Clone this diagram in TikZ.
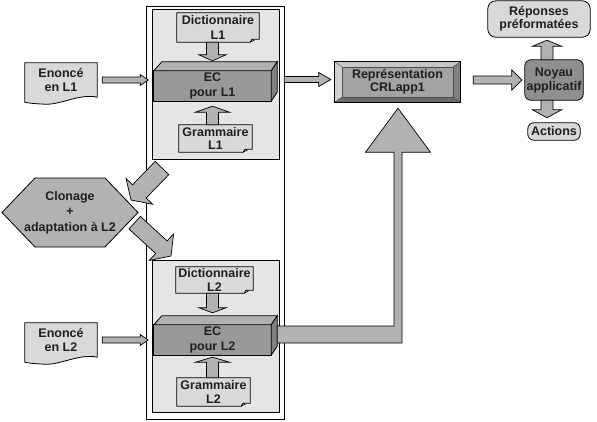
\documentclass[tikz,border=0pt]{standalone}
\usepackage{fontspec}
\setmainfont{Liberation Sans}
\usetikzlibrary{calc}
\pgfdeclarelayer{bg}
\pgfsetlayers{bg,main}
\definecolor{panelc}{gray}{0.9}
\definecolor{docc}{gray}{0.85}
\definecolor{arrowc}{gray}{0.7}
\definecolor{ecfront}{gray}{0.6}
\definecolor{ectop}{gray}{0.69}
\definecolor{ecside}{gray}{0.5}
\definecolor{repface}{gray}{0.64}
\definecolor{bevlight}{gray}{0.78}
\definecolor{bevlight2}{gray}{0.82}
\definecolor{bevdark}{gray}{0.42}
\definecolor{bevdark2}{gray}{0.5}
\definecolor{noyc}{gray}{0.56}
\newcommand\blockarr[5]{%
  \coordinate (bh) at ($(#2)!#5pt!(#1)$);
  \filldraw[arr] ($(#1)!#3pt!90:(#2)$) -- ($(bh)!#3pt!90:(#2)$) -- ($(bh)!#4pt!90:(#2)$) -- (#2)
    -- ($(bh)!#4pt!-90:(#2)$) -- ($(bh)!#3pt!-90:(#2)$) -- ($(#1)!#3pt!-90:(#2)$) -- cycle;}
\newcommand\notebox[1]{%
  \filldraw[docst] (#1.north west) -- (#1.north east) -- ($(#1.south east)+(0,-3)$)
    -- ($(#1.south east)+(-7,-3)$) -- ($(#1.south east)+(-9,0)$) -- (#1.south west) -- cycle;
  \filldraw[fill=gray!60, draw=black, line width=0.5pt] ($(#1.south east)+(-7,-3)$) -- ($(#1.south east)+(-9,0)$) -- ($(#1.south east)+(-5,-2)$) -- cycle;}
\newcommand\ecbox[1]{%
  \filldraw[fill=ecfront, line width=0.8pt] (#1.north west) rectangle (#1.south east);
  \filldraw[fill=ectop, line width=0.8pt] (#1.north west) -- ++(8,-9) -- ($(#1.north east)+(6,-9)$) -- (#1.north east) -- cycle;
  \filldraw[fill=ecside, line width=0.8pt] (#1.north east) -- ++(6,-9) -- ($(#1.south east)+(6,-9)$) -- (#1.south east) -- cycle;}
\newcommand\enonshape[1]{%
  \filldraw[docst] (#1.north west) -- (#1.north east) -- (#1.south east)
    .. controls ($(#1.south east)+(-17,-4)$) and ($(#1.south west)+(35,8)$) .. ($(#1.south west)+(20,7)$)
    .. controls ($(#1.south west)+(10,6.5)$) and ($(#1.south west)+(4,6)$) .. ($(#1.south west)+(0,5)$) -- cycle;}
\begin{document}
\begin{tikzpicture}[x=1pt,y=-1pt,
  txt/.style={font=\fontsize{12.5}{15.5}\selectfont\bfseries, align=center, inner sep=0pt, text=black!88},
  tight/.style={font=\fontsize{12.5}{13.2}\selectfont\bfseries},
  mid/.style={font=\fontsize{12.5}{14}\selectfont\bfseries},
  arr/.style={fill=arrowc, draw=black, line width=0.7pt, line join=miter},
  docst/.style={fill=docc, draw=black, line width=0.8pt}]
\useasboundingbox (0,0) rectangle (597,421);

% nodes (text)
\node[txt, minimum width=82pt, minimum height=29pt] (dict1) at (218,27.5) {Dictionnaire\\L1};
\node[txt, minimum width=117pt, minimum height=30pt] (ec1) at (212.5,86) {EC\\pour L1};
\node[txt, tight, minimum width=73pt, minimum height=27pt] (gram1) at (215.5,138.5) {Grammaire\\L1};
\node[txt, tight, minimum width=77pt, minimum height=26pt] (dict2) at (214.5,280) {Dictionnaire\\L2};
\node[txt, minimum width=117pt, minimum height=30pt] (ec2) at (212.5,340) {EC\\pour L2};
\node[txt, tight, minimum width=73pt, minimum height=28pt] (gram2) at (213.5,392) {Grammaire\\L2};
\node[txt, tight, minimum width=72pt, minimum height=34pt] (enon1) at (61,80) {Enoncé\\en L1};
\node[txt, tight, minimum width=72pt, minimum height=34pt] (enon2) at (61,340) {Enoncé\\en L2};
\node[txt, minimum width=136pt, minimum height=69pt] (clon) at (70,212.5) {Clonage\\+\\adaptation à L2};
\node[txt, tight, minimum width=125pt, minimum height=40pt] (rep) at (397.5,82) {Représentation\\CRLapp1};
\node[txt, mid, minimum width=58pt, minimum height=40pt] (noyau) at (554,80) {Noyau\\applicatif};
\node[txt, tight, minimum width=102pt, minimum height=36pt] (repo) at (539,19) {Réponses\\préformatées};
\node[txt, minimum width=52pt, minimum height=17pt] (act) at (554,131.5) {Actions};

% connector end points
\coordinate (a1s) at ($(enon1.east)+(5,0)$);
\coordinate (a1e) at ($(enon1.east)+(51,0)$);
\coordinate (a2s) at ($(enon2.east)+(5,0)$);
\coordinate (a2e) at ($(enon2.east)+(51,0)$);
\coordinate (a3s) at (ec1.north |- dict1.south);
\coordinate (a3e) at ($(ec1.north)+(0,-10)$);
\coordinate (a4s) at (ec1.south |- gram1.north);
\coordinate (a4e) at ($(ec1.south)+(0,5)$);
\coordinate (a5s) at (ec2.north |- dict2.south);
\coordinate (a5e) at ($(ec2.north)+(0,-12)$);
\coordinate (a6s) at (ec2.south |- gram2.north);
\coordinate (a6e) at ($(ec2.south)+(0,2)$);
\coordinate (a7s) at ($(ec1.east)+(13,-6.5)$);
\coordinate (a7e) at ($(rep.west)+(-4,-2.5)$);
\coordinate (a8s) at ($(rep.east)+(13,-2)$);
\coordinate (a8e) at ($(noyau.west)+(-3,0)$);
\coordinate (a9s) at ($(noyau.north)+(-7,0)$);
\coordinate (a9e) at ($(repo.south)+(8,3)$);
\coordinate (a10s) at ($(noyau.south)+(-7,0)$);
\coordinate (a10e) at ($(act.north)+(-7,-5)$);
\coordinate (d1s) at ($(clon.center)+(92,-44.5)$);
\coordinate (d1e) at ($(clon.center)+(61,-12.5)$);
\coordinate (d2s) at ($(clon.center)+(64.7,10.2)$);
\coordinate (d2e) at ($(clon.center)+(101,43.5)$);
\coordinate (lstart) at ($(ec2.east)+(6,-5.5)$);
\coordinate (ltip) at ($(rep.south)+(0.5,6)$);

\begin{pgfonlayer}{bg}
  \fill[white] (0,0) rectangle (597,421);
  % frame and panels
  \draw[fill=white, line width=0.8pt] (146,6.5) rectangle (284,419.3);
  \draw[fill=panelc, line width=0.8pt] (152,9.5) rectangle (279.3,159);
  \draw[fill=panelc, line width=0.8pt] (152,260.7) rectangle (279.3,412.7);
  % documents in panels
  \notebox{dict1}
  \notebox{gram1}
  \notebox{dict2}
  \notebox{gram2}
  % EC boxes
  \ecbox{ec1}
  \ecbox{ec2}
  % inner arrows
  \blockarr{a3s}{a3e}{6}{13.5}{6}
  \blockarr{a4s}{a4e}{6}{17}{6}
  \blockarr{a5s}{a5e}{6}{13.5}{5}
  \blockarr{a6s}{a6e}{6}{17}{5}
  % statements
  \enonshape{enon1}
  \enonshape{enon2}
  \blockarr{a1s}{a1e}{3}{5.5}{8}
  \blockarr{a2s}{a2e}{3}{5.5}{8}
  % cloning
  \filldraw[fill=arrowc, line width=0.8pt] ($(clon.center)+(-68,0)$) -- ++(33,-34.5) -- ++(70,0) -- ++(33,34.5) -- ++(-33,34.5) -- ++(-70,0) -- cycle;
  \blockarr{d1s}{d1e}{9.5}{18.5}{12}
  \blockarr{d2s}{d2e}{8.5}{18}{13}
  % representation (bevelled box)
  \fill[repface] (rep.north west) rectangle (rep.south east);
  \fill[bevlight] (rep.north west) -- (rep.north east) -- ($(rep.north east)+(-7,5)$) -- ($(rep.north west)+(7,5)$) -- cycle;
  \fill[bevlight2] (rep.north west) -- ($(rep.north west)+(7,5)$) -- ($(rep.south west)+(7,-5)$) -- (rep.south west) -- cycle;
  \fill[bevdark] (rep.south west) -- ($(rep.south west)+(7,-5)$) -- ($(rep.south east)+(-7,-5)$) -- (rep.south east) -- cycle;
  \fill[bevdark2] (rep.north east) -- ($(rep.north east)+(-7,5)$) -- ($(rep.south east)+(-7,-5)$) -- (rep.south east) -- cycle;
  \draw[line width=0.4pt, black!70] ($(rep.north west)+(7,5)$) rectangle ($(rep.south east)+(-7,-5)$);
  \draw[line width=0.4pt, black!70] (rep.north west) -- ++(7,5) (rep.north east) -- ++(-7,5) (rep.south west) -- ++(7,-5) (rep.south east) -- ++(-7,-5);
  \draw[line width=0.8pt] (rep.north west) rectangle (rep.south east);
  % L-shaped arrow from EC L2 to representation
  \filldraw[arr] ($(lstart)+(0,-8.5)$) -- ($(ltip |- lstart)+(-4,-8.5)$) -- ($(ltip)+(-4,44)$) -- ($(ltip)+(-32.5,44)$) -- (ltip)
     -- ($(ltip)+(32.5,44)$) -- ($(ltip)+(4,44)$) -- ($(ltip |- lstart)+(4,8.5)$) -- ($(lstart)+(0,8.5)$) -- cycle;
  \blockarr{a7s}{a7e}{3}{7}{12}
  \blockarr{a8s}{a8e}{4}{10}{10}
  % application core
  \filldraw[fill=noyc, rounded corners=6pt, line width=0.8pt] (noyau.north west) rectangle (noyau.south east);
  \filldraw[docst, rounded corners=8pt] (repo.north west) rectangle (repo.south east);
  \filldraw[docst, rounded corners=6pt] (act.north west) rectangle (act.south east);
  \blockarr{a9s}{a9e}{6}{14.5}{6}
  \blockarr{a10s}{a10e}{6}{14.5}{8}
\end{pgfonlayer}
\end{tikzpicture}
\end{document}
